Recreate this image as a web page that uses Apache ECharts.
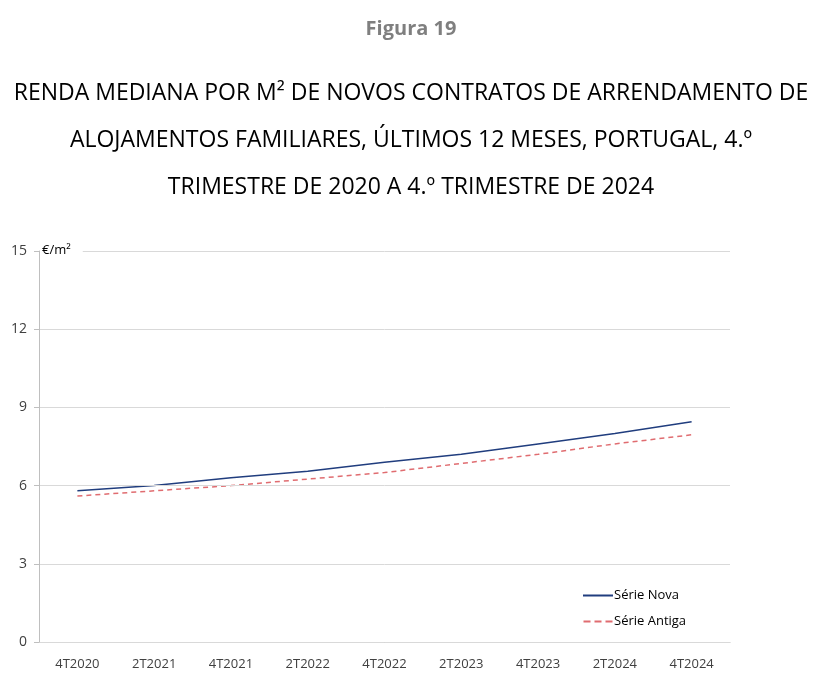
<!DOCTYPE html>
<html>
<head>
<meta charset="utf-8">
<script src="https://cdn.jsdelivr.net/npm/echarts@6/dist/echarts.min.js"></script>
<style>
  html, body { margin: 0; padding: 0; background: #fff; }
  #main { width: 822px; height: 692px; }
</style>
</head>
<body>
<div id="main"></div>
<script>
// categorias (trimestres)
var categorias = ['4T2020', '2T2021', '4T2021', '2T2022', '4T2022', '2T2023', '4T2023', '2T2024', '4T2024'];
// valores (€/m2)
var serieNova = [5.8, 6.0, 6.3, 6.55, 6.9, 7.2, 7.6, 8.0, 8.45];
var serieAntiga = [5.6, 5.8, 6.0, 6.25, 6.5, 6.85, 7.2, 7.6, 7.95];
var linhasTitulo = [
  'RENDA MEDIANA POR M² DE NOVOS CONTRATOS DE ARRENDAMENTO DE',
  'ALOJAMENTOS FAMILIARES, ÚLTIMOS 12 MESES, PORTUGAL, 4.º',
  'TRIMESTRE DE 2020 A 4.º TRIMESTRE DE 2024'
];

var fonte = 'Open Sans, Liberation Sans, sans-serif';
var myChart = echarts.init(document.getElementById('main'));

var titulos = [{
  text: 'Figura 19',
  left: 'center',
  top: 14,
  textStyle: { fontFamily: fonte, fontSize: 20, fontWeight: 'bold', color: '#7f7f7f' }
}];
for (var i = 0; i < linhasTitulo.length; i++) {
  titulos.push({
    text: linhasTitulo[i],
    left: 'center',
    top: 77 + i * 47,
    textStyle: { fontFamily: fonte, fontSize: 23, fontWeight: 'normal', color: '#000' }
  });
}

var option = {
  animation: false,
  title: titulos,
  grid: { left: 39, right: 92, top: 251, bottom: 50, containLabel: false },
  legend: {
    orient: 'vertical',
    left: 578,
    top: 584,
    itemGap: 13,
    itemWidth: 30,
    itemHeight: 2,
    icon: 'rect',
    textStyle: { fontFamily: fonte, fontSize: 13, color: '#000', padding: [0, 0, 0, -4] },
    data: [
      { name: 'Série Nova', itemStyle: { color: '#203d7e' } },
      { name: 'Série Antiga', icon: 'path://M0,0H7V2H0Z M11,0H18V2H11Z M22,0H29V2H22Z', itemStyle: { color: '#e06c70' } }
    ]
  },
  xAxis: {
    type: 'category',
    data: categorias,
    boundaryGap: true,
    axisLine: { lineStyle: { color: '#bfbfbf' } },
    axisTick: { show: false },
    axisLabel: { fontFamily: fonte, fontSize: 13, color: '#404040', margin: 16 }
  },
  yAxis: {
    type: 'value',
    min: 0,
    max: 15,
    interval: 3,
    name: '€/m²',
    nameLocation: 'end',
    nameGap: -10,
    nameTextStyle: {
      fontFamily: fonte, fontSize: 13, color: '#000', align: 'left',
      backgroundColor: '#fff', padding: [3, 12, 4, 3]
    },
    axisLine: { show: true, lineStyle: { color: '#bfbfbf' } },
    axisTick: { show: true, length: 5, lineStyle: { color: '#bfbfbf' } },
    axisLabel: { fontFamily: fonte, fontSize: 14, color: '#404040', margin: 12 },
    splitLine: { lineStyle: { color: '#d9d9d9' } },
    z: 5
  },
  series: [
    {
      name: 'Série Nova',
      type: 'line',
      data: serieNova,
      symbol: 'none',
      lineStyle: { color: '#203d7e', width: 1.5 },
      itemStyle: { color: '#203d7e' }
    },
    {
      name: 'Série Antiga',
      type: 'line',
      data: serieAntiga,
      symbol: 'none',
      lineStyle: { color: '#e06c70', width: 1.5, type: [5, 4] },
      itemStyle: { color: '#e06c70' }
    }
  ]
};

myChart.setOption(option);
</script>
</body>
</html>
